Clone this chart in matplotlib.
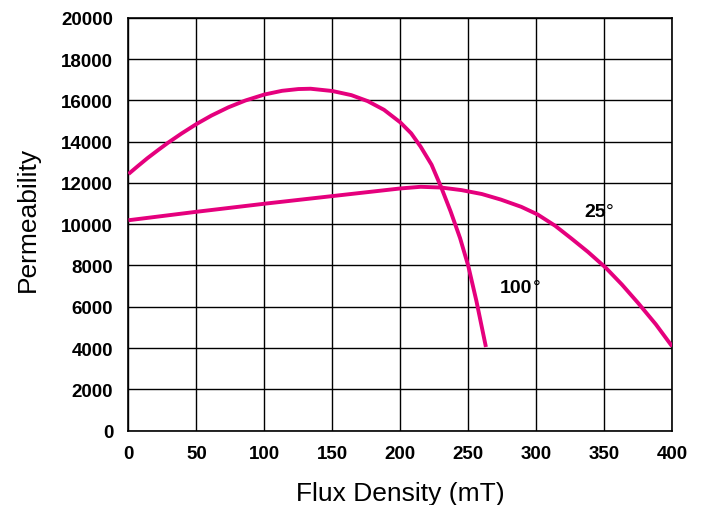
import matplotlib
matplotlib.use("Agg")
import matplotlib.pyplot as plt

plt.rcParams['font.family'] = ['Liberation Sans', 'DejaVu Sans']

# Permeability vs flux density at two temperatures
flux_25c = [0, 50, 100, 150, 200, 215, 230, 245, 260, 274, 289, 301, 314, 326,
            338, 351, 363, 375, 388, 400]
perm_25c = [10190, 10600, 10990, 11360, 11730, 11810, 11775, 11650, 11460, 11190,
            10840, 10470, 9920, 9300, 8660, 7900, 7080, 6180, 5150, 4080]

flux_100c = [0, 7, 14, 22, 29, 39, 50, 61, 73.5, 86, 100, 113, 125, 134, 150, 164,
             176, 188, 200, 208, 215, 223, 230, 237, 244, 250, 256, 263]
perm_100c = [12430, 12820, 13200, 13600, 13940, 14390, 14850, 15260, 15660, 15990,
             16280, 16460, 16545, 16560, 16450, 16250, 15960, 15540, 14930, 14400,
             13750, 12880, 11800, 10620, 9320, 7980, 6280, 4050]

x_ticks = [0, 50, 100, 150, 200, 250, 300, 350, 400]
y_ticks = [0, 2000, 4000, 6000, 8000, 10000, 12000, 14000, 16000, 18000, 20000]

curve_color = '#E5007D'

fig = plt.figure(figsize=(7.06, 5.06), dpi=100)
ax = fig.add_axes([0.182, 0.147, 0.770, 0.816])

for xs, ys in ((flux_25c, perm_25c), (flux_100c, perm_100c)):
    ax.plot(xs, ys, color=curve_color, lw=2.8, solid_capstyle='butt',
            solid_joinstyle='round', zorder=3)

ax.set_xlim(0, 400)
ax.set_ylim(0, 20000)
ax.set_xticks(x_ticks)
ax.set_yticks(y_ticks)
ax.set_xticklabels([str(v) for v in x_ticks], fontsize=13.5, fontweight='bold')
ax.set_yticklabels([str(v) for v in y_ticks], fontsize=13.5, fontweight='bold')
ax.tick_params(axis='both', length=0)
ax.tick_params(axis='x', pad=10)
ax.tick_params(axis='y', pad=11)

ax.grid(True, color='black', lw=1.0)
ax.set_axisbelow(True)
for sp in ax.spines.values():
    sp.set_color('black')
    sp.set_linewidth(1.2)

ax.set_xlabel('Flux Density (mT)', fontsize=19, labelpad=14)
ax.set_ylabel('Permeability', fontsize=19)
ax.yaxis.set_label_coords(-0.163, 0.514)

# Curve labels: bold number with a light degree sign
ax.text(351.0, 10403, '25', fontsize=14, fontweight='bold', ha='right', va='baseline')
ax.text(351.5, 10403, '°', fontsize=14, fontweight='normal', ha='left', va='baseline')
ax.text(297.0, 6714, '100', fontsize=14, fontweight='bold', ha='right', va='baseline')
ax.text(297.5, 6714, '°', fontsize=14, fontweight='normal', ha='left', va='baseline')

fig.savefig('out.png', dpi=100)
